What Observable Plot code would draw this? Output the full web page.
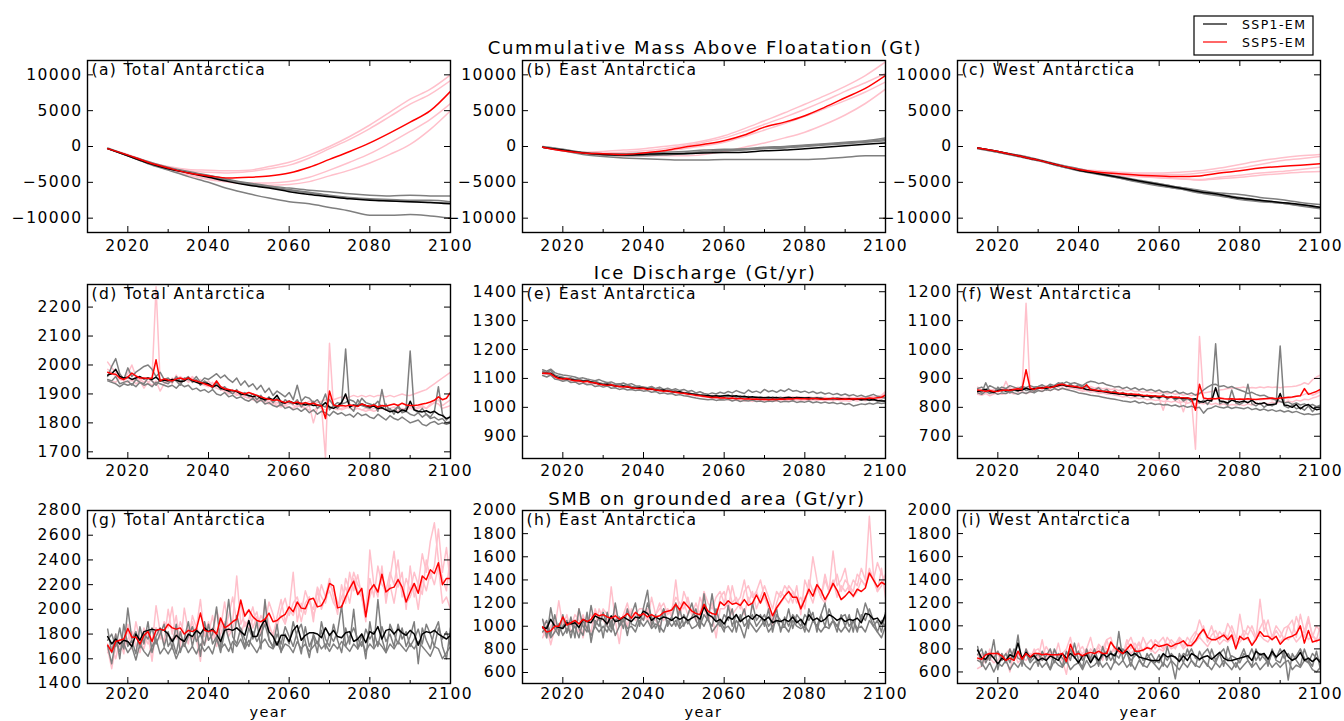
<!DOCTYPE html>
<html>
<head>
<meta charset="utf-8">
<script src="https://cdn.jsdelivr.net/npm/d3@7"></script>
<script src="https://cdn.jsdelivr.net/npm/@observablehq/plot@0.6"></script>
<style>
  body { margin: 0; background: #fff; }
  #fig { position: relative; width: 1344px; height: 721px; overflow: hidden; font-family: "DejaVu Sans", sans-serif; background: #fff; }
  #fig svg text { letter-spacing: 1.4px; }
  #fig svg text.heading { letter-spacing: 1.7px; }
  #fig svg text.legend-label { letter-spacing: 1.4px; }
</style>
</head>
<body>
<div id="fig"></div>
<script>
// ---------- time axes ----------
const years = d3.range(2015, 2101);        // annual values 2015..2100
const years5 = d3.range(2015, 2101, 5);    // five-year values for cumulative mass
const xLabelTicks = [2020, 2040, 2060, 2080, 2100];
const xMinorTicks = [2030, 2050, 2070, 2090];

// ---------- y ticks ----------
const massTicks = [-10000, -5000, 0, 5000, 10000];
const dischargeTotalTicks = [1700, 1800, 1900, 2000, 2100, 2200];
const dischargeEastTicks = [900, 1000, 1100, 1200, 1300, 1400];
const dischargeWestTicks = [700, 800, 900, 1000, 1100, 1200];
const smbTotalTicks = [1400, 1600, 1800, 2000, 2200, 2400, 2600, 2800];
const smbRegionTicks = [600, 800, 1000, 1200, 1400, 1600, 1800, 2000];

// ---------- cumulative mass above floatation (Gt), five-yearly ----------
const massTotalSSP1 = [
  [-300,-1300,-2400,-3300,-4200,-5000,-5900,-6600,-7200,-7700,-8000,-8500,-9000,-9600,-9600,-9500,-9700,-10000],
  [-300,-1200,-2100,-2900,-3500,-4000,-4600,-5100,-5500,-5800,-6100,-6300,-6600,-6800,-6900,-6800,-6900,-6900],
  [-200,-1200,-2200,-3000,-3600,-4100,-4700,-5200,-5600,-6000,-6400,-6800,-7100,-7300,-7400,-7500,-7500,-7700],
  [-300,-1300,-2300,-3100,-3600,-4200,-4800,-5300,-5700,-6100,-6500,-6900,-7200,-7400,-7600,-7700,-7800,-7900]
];
const massTotalSSP1Mean = [-300,-1300,-2300,-3100,-3700,-4300,-4900,-5400,-5800,-6300,-6700,-7000,-7300,-7500,-7600,-7700,-7800,-8000];
const massTotalSSP5 = [
  [-300,-1200,-2200,-2800,-3200,-3300,-3400,-3300,-2800,-2200,-1200,0,1400,3000,4800,6600,8000,10000],
  [-300,-1100,-2100,-2900,-3400,-3600,-3700,-3500,-3100,-2600,-1600,-300,1000,2500,4200,5900,7300,9200],
  [-300,-1300,-2300,-3100,-3900,-4500,-4900,-5100,-5100,-4900,-4300,-3300,-2200,-1000,500,2100,3800,6000],
  [-300,-1300,-2300,-3200,-4000,-4600,-5000,-5300,-5400,-5300,-4900,-4100,-3300,-2300,-1100,300,2400,5000]
];
const massTotalSSP5Mean = [-300,-1200,-2200,-3000,-3700,-4100,-4400,-4300,-4100,-3700,-2900,-1800,-700,500,1900,3400,5000,7700];

const massEastSSP1 = [
  [-100,-600,-1100,-1400,-1600,-1700,-1800,-1900,-1900,-1800,-1800,-1800,-1800,-1800,-1700,-1500,-1300,-1300],
  [-100,-400,-800,-1000,-1000,-900,-800,-700,-500,-400,-300,-100,0,200,400,600,800,1200],
  [-100,-500,-900,-1100,-1100,-1100,-1000,-900,-700,-500,-400,-200,-100,100,300,500,700,1000],
  [0,-400,-900,-1200,-1300,-1300,-1200,-1000,-800,-600,-500,-300,-200,0,200,400,600,800]
];
const massEastSSP1Mean = [-100,-500,-900,-1100,-1200,-1100,-1000,-1000,-900,-850,-800,-600,-500,-300,-100,100,300,500];
const massEastSSP5 = [
  [-100,-500,-800,-700,-500,-300,0,300,800,1500,2500,3600,4700,5900,7100,8400,9900,11800],
  [-100,-500,-900,-900,-800,-600,-300,100,600,1200,2100,3100,4100,5200,6400,7700,8900,10200],
  [-100,-600,-1000,-1100,-1100,-1000,-700,-300,100,600,1400,2300,3200,4200,5300,6400,7600,9000],
  [-100,-600,-1000,-1200,-1300,-1300,-1300,-1300,-1100,-700,-100,500,1200,2000,3100,4400,6000,8000]
];
const massEastSSP5Mean = [-100,-600,-900,-1000,-1100,-900,-600,-100,300,800,1600,2700,3400,4300,5500,6800,8100,9900];

const massWestSSP1 = [
  [-200,-700,-1200,-1800,-2500,-3100,-3700,-4200,-4700,-5200,-5700,-6100,-6500,-6700,-7100,-7400,-7800,-8100],
  [-200,-800,-1400,-2000,-2700,-3400,-3900,-4400,-4900,-5400,-5900,-6300,-6800,-7300,-7600,-7900,-8200,-8500],
  [-300,-800,-1300,-1900,-2700,-3300,-3800,-4400,-5000,-5500,-5900,-6500,-6900,-7400,-7700,-7900,-8300,-8700],
  [-200,-700,-1300,-1900,-2600,-3300,-3800,-4300,-4800,-5200,-5700,-6200,-6700,-7100,-7500,-7800,-8100,-8600]
];
const massWestSSP1Mean = [-200,-700,-1300,-1900,-2600,-3300,-3800,-4300,-4800,-5300,-5800,-6300,-6700,-7200,-7500,-7800,-8100,-8500];
const massWestSSP5 = [
  [-200,-700,-1200,-1800,-2500,-3100,-3400,-3600,-3700,-3700,-3600,-3400,-3000,-2500,-2000,-1600,-1300,-1100],
  [-200,-700,-1300,-1900,-2600,-3200,-3600,-3800,-3900,-3900,-3900,-3700,-3400,-3000,-2500,-2000,-1700,-1400],
  [-200,-700,-1300,-1900,-2700,-3300,-3800,-4000,-4200,-4400,-4500,-4600,-4300,-4000,-3700,-3500,-3200,-2900],
  [-300,-800,-1400,-2000,-2700,-3300,-3700,-4000,-4200,-4300,-4500,-4700,-4500,-4300,-4000,-3800,-3600,-3500]
];
const massWestSSP5Mean = [-200,-700,-1300,-1900,-2600,-3200,-3600,-3800,-4000,-4100,-4200,-4100,-3700,-3400,-3000,-2800,-2600,-2400];

// ---------- ice discharge (Gt/yr), annual 2015..2100 ----------
const dischargeTotalSSP1 = [
  [1960,1995,2022,1970,1950,
   1990,1960,1975,1985,1995,2000,1985,1960,1975,1950,
   1955,1940,1960,1945,1950,1960,1940,1950,1930,1945,
   1935,1920,1940,1915,1925,1910,1900,1915,1895,1905,
   1890,1900,1880,1895,1875,1890,1870,1885,1860,1880,
   1870,1865,1880,1855,1870,1860,1875,1850,1865,1900,
   1845,1860,1850,1870,2055,1855,1840,1880,1860,1855,
   1850,1865,1840,1915,1845,1850,1830,1860,1840,1850,
   2048,1845,1835,1850,1830,1820,1840,1925,1830,1810,
   1825],
  [1950,1945,1960,1935,1940,
   1945,1930,1950,1940,1935,1955,1945,1930,1950,1940,
   1935,1950,1945,1930,1955,1950,1945,1960,1940,1955,
   1950,1960,1970,1955,1965,1950,1940,1955,1930,1945,
   1925,1935,1915,1930,1905,1920,1895,1910,1900,1890,
   1905,1880,1930,1875,1890,1885,1870,1880,1860,1855,
   1880,1860,1870,1865,1870,1880,1875,1860,1885,1870,
   1865,1860,1875,1850,1865,1840,1845,1855,1835,1840,
   1830,1825,1835,1820,1830,1815,1820,1810,1815,1800,
   1805],
  [1945,1940,1935,1925,1935,
   1930,1935,1925,1940,1930,1935,1925,1940,1935,1930,
   1925,1930,1920,1935,1925,1930,1915,1920,1910,1915,
   1905,1915,1900,1895,1905,1890,1895,1885,1890,1880,
   1875,1885,1870,1880,1865,1870,1860,1855,1865,1850,
   1855,1845,1850,1840,1850,1835,1845,1830,1840,1835,
   1825,1840,1830,1835,1825,1830,1820,1835,1825,1830,
   1820,1815,1830,1820,1810,1825,1815,1810,1820,1810,
   1800,1805,1810,1795,1790,1800,1805,1795,1800,1795,
   1800]
];
const dischargeTotalSSP1Mean = [
  1965,1970,1985,1960,1955,
  1958,1950,1955,1960,1952,1955,1950,1958,1945,1948,
  1945,1950,1948,1942,1945,1955,1945,1940,1935,1938,
  1935,1925,1930,1920,1915,1910,1912,1908,1900,1898,
  1895,1890,1895,1885,1880,1885,1880,1895,1872,1868,
  1875,1870,1865,1868,1862,1865,1860,1862,1858,1870,
  1855,1850,1858,1870,1900,1855,1862,1858,1865,1860,
  1855,1858,1850,1852,1845,1838,1842,1835,1845,1840,
  1875,1845,1840,1838,1842,1835,1840,1830,1825,1815,
  1820];
const dischargeTotalSSP5 = [
  [2010,1990,1975,1965,1950,
   1970,2000,1960,1945,1955,1940,1950,2270,1945,1940,
   1950,1935,1965,1945,1955,1940,1950,1945,1935,1930,
   1925,1940,1920,1915,1910,1905,1915,1900,1895,1890,
   1885,1890,1880,1875,1880,1870,1865,1870,1860,1865,
   1875,1860,1855,1865,1850,1860,1800,1850,1860,1680,
   2075,1850,1855,1845,1850,1860,1855,1850,1845,1850,
   1845,1850,1855,1850,1845,1850,1855,1850,1845,1850,
   1855,1850,1855,1860,1850,1865,1870,1880,1860,1870,
   1880],
  [1985,1975,1960,1950,1945,
   1955,1945,1960,1950,1940,1955,1945,1935,1950,1945,
   1940,1955,1945,1960,1950,1945,1955,1940,1950,1935,
   1945,1930,1935,1925,1920,1915,1910,1905,1900,1895,
   1895,1890,1885,1885,1880,1875,1875,1870,1870,1865,
   1865,1870,1865,1870,1865,1875,1870,1870,1875,1880,
   1885,1880,1885,1890,1885,1890,1895,1890,1895,1890,
   1895,1890,1895,1895,1890,1895,1890,1895,1900,1895,
   1895,1900,1905,1910,1915,1925,1935,1945,1955,1965,
   1975],
  [1950,1945,1940,1955,1945,
   1940,1950,1935,1945,1920,1940,1930,1945,1910,1935,
   1940,1945,1950,1940,1945,1950,1960,1945,1940,1935,
   1930,1925,1920,1915,1910,1900,1905,1895,1900,1890,
   1885,1880,1875,1880,1870,1865,1870,1860,1855,1860,
   1855,1850,1860,1855,1850,1845,1840,1855,1850,1845,
   1855,1850,1845,1850,1855,1850,1845,1850,1845,1840,
   1845,1840,1845,1850,1845,1840,1845,1840,1850,1845,
   1850,1845,1850,1855,1850,1860,1870,1865,1850,1855,
   1860]
];
const dischargeTotalSSP5Mean = [
  1975,1970,1968,1955,1950,
  1958,1972,1962,1955,1955,1953,1955,2018,1945,1952,
  1948,1945,1952,1955,1950,1955,1948,1945,1940,1935,
  1930,1925,1945,1925,1918,1915,1912,1910,1905,1900,
  1905,1900,1895,1890,1885,1882,1878,1880,1875,1870,
  1875,1868,1872,1866,1870,1865,1868,1862,1860,1815,
  1910,1862,1858,1860,1858,1862,1860,1857,1865,1860,
  1858,1862,1855,1860,1858,1862,1865,1860,1868,1862,
  1860,1860,1862,1865,1868,1872,1878,1890,1880,1885,
  1905];

const dischargeEastSSP1 = [
  [1130,1125,1132,1120,1115,
   1112,1110,1108,1105,1100,1102,1098,1095,1092,1096,
   1090,1085,1088,1082,1080,1084,1078,1082,1075,1072,
   1070,1068,1072,1065,1070,1062,1066,1060,1064,1058,
   1062,1055,1058,1050,1054,1048,1045,1050,1046,1052,
   1048,1055,1050,1058,1052,1048,1060,1052,1056,1050,
   1062,1054,1058,1052,1060,1055,1064,1056,1058,1052,
   1056,1050,1055,1048,1052,1046,1050,1044,1048,1042,
   1046,1040,1044,1038,1042,1036,1040,1045,1038,1035,
   1032],
  [1110,1105,1112,1098,1095,
   1090,1094,1086,1088,1080,1084,1078,1080,1072,1075,
   1070,1074,1066,1068,1062,1065,1060,1062,1058,1060,
   1056,1058,1052,1055,1048,1050,1046,1048,1042,1044,
   1040,1038,1035,1032,1030,1028,1026,1028,1024,1026,
   1025,1028,1022,1026,1020,1024,1022,1025,1020,1022,
   1018,1022,1020,1024,1018,1021,1019,1023,1017,1020,
   1018,1022,1016,1019,1015,1018,1014,1017,1012,1015,
   1010,1013,1005,1008,1012,1010,1014,1011,1016,1013,
   1015],
  [1125,1120,1128,1112,1108,
   1104,1100,1102,1096,1098,1092,1095,1088,1090,1085,
   1082,1086,1080,1078,1082,1075,1078,1072,1070,1074,
   1068,1066,1070,1062,1064,1058,1060,1055,1058,1052,
   1050,1052,1046,1048,1042,1045,1038,1040,1036,1038,
   1040,1036,1042,1035,1040,1034,1038,1032,1036,1030,
   1034,1030,1036,1032,1035,1030,1033,1029,1034,1031,
   1032,1028,1033,1030,1034,1029,1031,1027,1033,1030,
   1028,1031,1026,1030,1025,1028,1024,1027,1022,1025,
   1020]
];
const dischargeEastSSP1Mean = [
  1118,1117,1118,1108,1102,
  1100,1098,1096,1094,1092,1090,1091,1088,1084,1082,
  1078,1080,1076,1074,1072,1074,1070,1068,1066,1068,
  1066,1064,1063,1060,1058,1060,1056,1055,1052,1054,
  1050,1048,1046,1044,1042,1040,1041,1038,1040,1038,
  1040,1042,1038,1040,1036,1038,1035,1037,1034,1035,
  1033,1035,1032,1034,1031,1033,1035,1032,1034,1033,
  1032,1033,1030,1032,1030,1028,1030,1031,1029,1030,
  1028,1030,1027,1029,1026,1028,1025,1027,1024,1022,
  1022];
const dischargeEastSSP5 = [
  [1122,1118,1120,1110,1104,
   1102,1098,1100,1094,1096,1090,1092,1088,1086,1084,
   1080,1082,1076,1078,1072,1074,1070,1072,1066,1068,
   1064,1066,1060,1062,1058,1060,1054,1056,1050,1052,
   1048,1050,1044,1046,1040,1042,1036,1038,1032,1034,
   1030,1034,1028,1032,1026,1030,1025,1028,1024,1026,
   1025,1028,1023,1026,1024,1027,1025,1028,1026,1029,
   1027,1030,1026,1029,1027,1030,1028,1031,1029,1032,
   1030,1033,1031,1034,1032,1035,1034,1037,1038,1042,
   1055],
  [1112,1115,1110,1102,1098,
   1094,1100,1090,1092,1086,1090,1082,1085,1080,1078,
   1076,1072,1076,1070,1072,1066,1070,1064,1066,1062,
   1064,1058,1062,1056,1058,1052,1055,1050,1052,1046,
   1048,1042,1044,1038,1040,1034,1036,1030,1032,1028,
   1030,1026,1028,1024,1027,1022,1025,1020,1024,1021,
   1023,1020,1024,1021,1025,1022,1026,1023,1027,1024,
   1026,1023,1027,1024,1026,1022,1025,1023,1026,1022,
   1024,1021,1025,1022,1026,1023,1027,1024,1028,1030,
   1035],
  [1118,1122,1114,1108,1100,
   1098,1102,1094,1090,1096,1088,1092,1084,1088,1080,
   1082,1076,1080,1074,1076,1070,1074,1068,1070,1064,
   1068,1062,1066,1060,1062,1056,1060,1054,1056,1050,
   1052,1046,1048,1042,1044,1040,1038,1042,1036,1038,
   1034,1038,1032,1036,1030,1034,1028,1032,1030,1033,
   1030,1034,1031,1035,1032,1036,1033,1037,1034,1036,
   1034,1037,1033,1036,1032,1035,1031,1034,1032,1035,
   1033,1036,1032,1035,1033,1036,1034,1037,1036,1040,
   1048]
];
const dischargeEastSSP5Mean = [
  1118,1118,1116,1106,1100,
  1098,1100,1095,1092,1093,1088,1090,1086,1085,1080,
  1078,1076,1078,1074,1072,1070,1072,1068,1066,1065,
  1066,1062,1064,1060,1058,1056,1057,1054,1052,1050,
  1049,1046,1044,1042,1040,1038,1036,1034,1035,1032,
  1033,1031,1032,1030,1031,1029,1030,1028,1029,1027,
  1028,1026,1028,1027,1029,1028,1030,1029,1031,1030,
  1030,1029,1031,1030,1028,1030,1029,1031,1030,1028,
  1029,1028,1030,1029,1031,1030,1032,1031,1033,1035,
  1042];

const dischargeWestSSP1 = [
  [860,850,885,855,850,
   870,855,865,850,860,855,870,858,862,855,
   865,870,860,875,868,880,885,872,880,870,
   878,870,872,865,860,868,855,862,850,858,
   845,852,840,848,838,846,835,842,832,840,
   830,845,828,838,825,835,822,830,820,828,
   815,825,810,830,1020,812,820,808,860,815,
   810,818,880,812,805,815,800,810,805,812,
   1012,805,798,808,795,800,790,805,785,800,
   805],
  [865,870,860,875,868,
   862,870,865,875,870,865,872,868,875,870,
   872,878,870,880,875,885,880,888,882,885,
   880,875,885,890,888,882,885,878,875,870,
   872,865,870,862,868,860,865,858,862,855,
   860,852,855,850,858,848,852,845,850,842,
   848,860,870,878,880,872,875,868,872,865,
   860,855,848,852,845,840,842,835,830,825,
   820,815,818,810,815,808,812,805,810,802,
   808],
  [850,845,855,848,852,
   845,850,848,855,850,845,852,848,855,850,
   858,855,862,858,865,860,866,862,858,855,
   850,848,845,842,840,838,835,832,830,828,
   825,822,820,818,822,815,818,812,815,810,
   812,808,810,805,808,802,806,800,804,798,
   800,780,795,798,805,800,798,802,796,800,
   798,795,800,792,796,790,794,788,792,786,
   790,784,788,782,786,780,775,778,774,776,
   778]
];
const dischargeWestSSP1Mean = [
  855,858,862,855,852,
  858,860,856,860,862,858,860,866,862,865,
  866,868,866,870,872,875,878,874,872,870,
  868,866,862,860,858,856,855,852,850,848,
  846,845,843,842,840,842,838,840,836,838,
  835,838,834,836,832,834,830,832,828,830,
  820,818,825,822,868,822,820,815,825,820,
  818,822,816,825,814,812,816,808,810,812,
  848,808,806,800,810,795,805,810,798,792,
  795];
const dischargeWestSSP5 = [
  [870,860,855,862,858,
   865,855,890,860,858,862,860,1160,858,865,
   870,862,875,868,872,870,875,872,868,865,
   862,860,870,858,855,852,855,850,848,850,
   845,848,842,845,840,842,838,840,835,838,
   830,790,835,832,830,825,785,830,828,655,
   1045,830,828,825,830,828,832,826,830,828,
   825,828,826,830,828,825,828,830,826,828,
   830,832,830,835,838,840,845,850,842,848,
   855],
  [850,855,852,858,862,
   858,865,860,868,862,870,865,868,872,866,
   870,874,868,872,876,870,874,878,872,876,
   870,874,868,872,866,870,864,866,862,864,
   858,862,856,860,854,856,852,855,850,852,
   848,852,846,850,845,848,842,846,840,845,
   848,850,852,855,858,860,862,865,866,868,
   868,870,866,869,867,870,868,871,869,870,
   868,870,871,872,874,878,885,880,895,905,
   912],
  [845,842,848,840,846,
   850,845,848,852,846,850,855,848,852,856,
   860,855,862,858,865,860,866,862,868,864,
   860,856,858,852,855,848,850,845,846,842,
   840,836,838,832,835,830,832,826,828,824,
   825,820,822,818,822,816,820,814,818,812,
   815,812,816,810,814,808,812,806,810,808,
   810,806,812,808,815,810,816,812,818,814,
   820,816,822,818,825,822,828,826,832,836,
   842]
];
const dischargeWestSSP5Mean = [
  860,858,856,858,855,
  856,858,860,858,862,864,862,930,866,862,
  868,866,870,868,872,878,880,876,874,872,
  870,866,878,862,860,858,856,855,853,852,
  850,849,847,846,845,844,842,841,840,839,
  838,838,836,835,836,834,833,832,830,790,
  880,832,830,831,830,832,830,829,830,828,
  829,828,830,828,827,829,830,831,832,830,
  832,833,835,836,838,840,865,845,850,855,
  862];

// ---------- SMB on grounded area (Gt/yr), annual 2015..2100 ----------
const smbTotalSSP1 = [
  [1840,1650,1800,1600,1880,
   1700,1750,1640,1860,1720,1900,1650,1780,1850,1700,
   1820,1680,1880,1650,1760,1900,1700,1850,1620,1900,
   1750,1800,2020,1700,1880,1760,1650,1950,1820,1700,
   1850,1760,1900,1680,2080,1750,1700,1880,1650,1800,
   1720,1900,1770,1640,1860,1700,1780,1650,1900,1760,
   1700,1880,1750,1650,1850,1720,2000,1680,1800,1600,
   1900,1700,2080,1760,1650,1880,1800,1720,1850,1700,
   1780,1900,1560,1850,1750,1680,1820,1900,1700,1600,
   1850],
  [1750,1800,1700,1850,1680,
   2010,1760,1820,1690,1800,1760,1850,1720,1800,1880,
   1700,1760,1640,1820,1700,1780,1860,1740,1800,1710,
   1880,1720,1780,1650,1820,2080,1780,1720,1850,1760,
   1700,1820,1740,1800,1880,1760,1690,1800,1720,1860,
   1780,1700,1820,1880,1740,1610,1800,1720,1830,1680,
   1800,1740,1820,2030,1700,1780,1850,1760,1700,1840,
   1760,1820,1700,1860,1740,1800,1700,1880,1760,1820,
   1700,1760,1840,1720,1880,1800,1700,1850,1760,1820,
   1700],
  [1700,1560,1750,1660,1720,
   1650,1700,1590,1720,1660,1620,1700,1760,1640,1690,
   1640,1700,1600,1680,1720,1650,1700,1640,1720,1660,
   1700,1640,1760,1680,1720,1660,1740,1700,1760,1680,
   1750,1700,1650,1720,1760,1700,1680,1740,1660,1720,
   1700,1650,1740,1680,1720,1660,1700,1740,1680,1720,
   1660,1720,1680,1740,1700,1660,1720,1680,1740,1660,
   1720,1680,1740,1700,1650,1720,1680,1740,1700,1660,
   1720,1680,1740,1700,1660,1620,1700,1680,1600,1650,
   1700]
];
const smbTotalSSP1Mean = [
  1780,1720,1760,1720,1750,
  1740,1700,1800,1750,1820,1830,1840,1830,1840,1830,
  1800,1740,1790,1760,1740,1800,1780,1830,1800,1850,
  1820,1840,1800,1740,1830,1840,1830,1850,1820,1790,
  1910,1780,1780,1860,1920,1820,1780,1710,1790,1790,
  1740,1830,1870,1750,1790,1810,1810,1800,1770,1850,
  1790,1830,1780,1770,1810,1820,1740,1760,1800,1730,
  1820,1800,1860,1760,1830,1840,1800,1840,1810,1790,
  1830,1800,1710,1800,1820,1810,1830,1800,1780,1760,
  1790];
const smbTotalSSP5 = [
  [1680,1520,1700,1760,1640,
   1880,1720,1800,1680,1850,1760,1700,2030,1820,1740,
   2000,1800,1950,1700,2010,1820,1900,1760,1580,1900,
   1800,1950,1760,1850,2060,1820,1900,2270,1880,1960,
   2000,1850,1940,1820,2050,1880,1780,1940,2080,1900,
   2000,2300,1900,2050,1960,2100,1900,2160,2000,2100,
   2250,2100,1960,2200,2050,2300,2150,2280,2100,1900,
   2480,2200,2100,2350,2050,2250,2470,2180,2300,2000,
   2350,2100,2200,2450,2300,2550,2700,2400,2250,2150,
   2450],
  [1720,1650,1800,1700,1760,
   1820,1680,1900,1750,1680,1800,1580,1850,1760,1900,
   1850,2020,1760,1900,1800,1720,1950,1850,2080,1780,
   1900,1760,2000,1880,1820,1950,2100,1900,2050,1860,
   1920,2020,1850,1950,1880,2060,1960,1850,2000,2090,
   1950,2050,2100,1980,2150,2050,2000,2180,2100,2050,
   2200,2150,2060,2000,2250,2150,2300,2200,2150,2000,
   2250,2100,2350,2200,2150,2300,2200,2400,2100,2250,
   2150,2300,2200,2120,2400,2250,2350,2650,2300,2500,
   2200],
  [1650,1700,1600,1750,1680,
   1760,1820,1700,1650,1800,1720,1760,1850,1800,1720,
   1800,1750,1850,1780,1700,1820,1760,1850,1800,1720,
   1780,1850,1700,1800,1900,1780,1850,1950,1800,1900,
   1850,1920,1980,1800,1900,1850,1800,1900,1950,1880,
   2000,1950,2050,1900,2050,2100,1950,2050,2200,2100,
   2150,2050,2000,2100,2180,2050,2250,2150,2100,1950,
   2100,2200,2150,2300,2100,2200,2050,2250,2150,2050,
   2100,2200,2000,2250,2150,2300,2200,2350,2050,2100,
   2000]
];
const smbTotalSSP5Mean = [
  1710,1655,1740,1750,1760,
  1845,1775,1775,1720,1790,1820,1740,1830,1840,1830,
  1880,1850,1840,1850,1800,1830,1820,1840,1970,1830,
  1820,1830,1800,1930,1850,1870,1900,1920,2075,1945,
  1995,1940,1910,1900,1920,1970,1900,1910,1940,1960,
  2020,1980,2060,2010,2005,2080,2090,2020,2030,2090,
  2210,2190,2012,2020,2100,2170,2228,2120,2170,1940,
  2155,2200,2140,2285,2140,2170,2180,2240,2180,2060,
  2140,2210,2130,2270,2240,2320,2290,2377,2200,2250,
  2250];

const smbEastSSP1 = [
  [1060,900,1160,980,920,
   1100,940,1080,900,1150,1000,950,1180,1000,1080,
   900,1120,980,1200,1000,1080,920,1100,1200,1000,
   1160,1310,1000,1100,950,1150,1020,1080,1000,1150,
   1000,1100,1200,1050,980,1280,1050,1000,1150,1020,
   950,1180,1000,1100,1050,1150,980,1200,1050,1100,
   1000,1150,950,1100,1050,1000,1150,980,1100,1050,
   950,1150,1050,1000,1100,1200,1000,1050,950,1100,
   1000,1100,950,1150,1050,1200,1100,1000,1050,950,
   1120],
  [980,1050,920,1100,950,
   1000,1050,900,1050,980,920,1120,860,1050,1000,
   1120,1000,950,1050,1080,980,1150,1020,1000,1100,
   1050,1200,1080,980,1050,1150,1000,1080,1200,1000,
   1100,1020,1080,1150,1000,1100,1050,1280,1050,1000,
   1100,1050,1150,950,1100,1000,1050,1100,1000,1050,
   1100,1000,1050,1150,950,1080,1000,1100,1050,1000,
   1100,1050,1120,950,1100,1000,1150,1050,1000,1080,
   1100,1000,1050,950,1100,1050,1150,1050,950,1050,
   1000],
  [950,1000,900,950,1020,
   920,980,950,1000,900,1050,980,920,1000,950,
   1000,950,1050,920,1000,1050,980,1000,950,1050,
   1000,1050,980,1020,1000,950,1050,1000,1050,980,
   1020,1050,980,1000,1050,1000,1080,950,1000,1050,
   980,1000,950,1050,1000,900,1050,1000,950,1000,
   1050,950,1000,1050,980,1000,950,1050,1000,980,
   1000,950,1050,1000,950,1000,980,1050,1000,950,
   1000,950,1050,980,1000,950,1050,1000,950,900,
   1000]
];
const smbEastSSP1Mean = [
  990,980,1060,1000,990,
  980,1030,1020,1030,990,1060,1040,1030,1090,1070,
  1060,1020,1090,1040,1050,1080,1060,1040,1080,1070,
  1130,1110,1050,1080,1060,1080,1070,1050,1080,1060,
  1080,1050,1070,1090,1060,1170,1100,1080,1040,1060,
  1020,1080,1060,1100,1040,1070,1090,1060,1100,1080,
  1050,1080,1030,1050,1040,1060,1040,1080,1030,1060,
  1010,1100,1050,1070,1040,1060,1100,1080,1050,1070,
  1040,1060,1050,1070,1030,1110,1100,1060,1070,1020,
  1100];
const smbEastSSP5 = [
  [1050,1000,840,980,1220,
   1000,1100,950,1000,1150,900,1050,1100,1000,1150,
   1050,1000,1340,1050,850,1100,1000,1150,1050,1100,
   1050,1150,1000,1100,1200,1050,1150,1100,1400,1100,
   1300,1200,1100,1050,1250,1150,1100,1200,1050,1250,
   1300,1150,1350,1200,1250,1400,1200,1300,1150,1250,
   1350,1250,1150,1300,1250,1350,1300,1200,1350,1100,
   1400,1300,1600,1400,1250,1450,1300,1650,1350,1400,
   1500,1300,1400,1350,1500,1400,1950,1450,1300,1500,
   1250],
  [900,1000,950,1050,980,
   1050,950,1050,1000,950,1100,1000,950,1150,1050,
   1150,1100,1050,1150,1000,1100,1200,1050,1100,1150,
   1150,1050,1250,1100,1150,1200,1100,1150,1250,1200,
   1150,1250,1100,1200,1100,1300,1200,1150,1250,1300,
   1200,1350,1200,1250,1150,1300,1350,1250,1300,1400,
   1250,1150,1050,1200,1300,1250,1350,1300,1200,1250,
   1150,1400,1300,1350,1250,1400,1300,1350,1450,1300,
   1400,1350,1300,1450,1400,1350,1500,1400,1550,1450,
   1400],
  [950,900,1000,1050,950,
   1000,1050,1000,1100,1050,1000,1080,1050,1100,1050,
   1100,1050,1000,1100,1080,1050,1150,1050,1100,1080,
   1100,1050,1100,1050,1000,1100,1150,1080,1200,1100,
   1200,1100,1150,1050,1100,1150,1050,1100,900,1150,
   1150,1200,1100,1150,1200,1100,1250,1150,1300,1200,
   1250,1200,1000,1150,1200,1250,1200,1300,1250,1150,
   1250,1300,1200,1350,1250,1200,1300,1400,1250,1350,
   1300,1350,1250,1300,1400,1350,1450,1400,1300,1350,
   1450]
];
const smbEastSSP5Mean = [
  994,950,960,1000,1000,
  1080,1010,1030,1050,1020,1060,1040,1060,1110,1090,
  1100,1080,1070,1090,1060,1080,1110,1070,1120,1090,
  1110,1080,1100,1080,1090,1120,1130,1140,1190,1140,
  1210,1170,1130,1110,1100,1190,1130,1110,1100,1210,
  1180,1220,1190,1200,1180,1230,1180,1200,1270,1200,
  1290,1190,1090,1160,1210,1260,1300,1250,1250,1150,
  1230,1320,1260,1360,1310,1230,1290,1370,1310,1230,
  1260,1300,1260,1320,1300,1330,1460,1400,1340,1380,
  1360];

const smbWestSSP1 = [
  [820,650,780,700,880,
   620,760,680,800,700,920,650,800,700,760,
   650,780,700,620,800,720,650,780,700,850,
   700,640,800,700,750,650,820,700,780,680,
   950,700,780,650,800,720,650,760,700,680,
   750,650,820,700,540,760,680,800,700,650,
   780,700,650,800,700,760,650,820,700,640,
   720,800,700,650,800,700,760,650,800,700,
   680,780,530,760,700,650,800,700,650,780,
   620],
  [750,800,680,750,720,
   780,700,760,680,800,720,700,760,680,720,
   760,700,740,800,680,760,720,680,800,720,
   780,700,760,720,800,680,740,780,700,760,
   720,800,760,700,740,780,700,720,760,700,
   680,750,700,760,720,700,760,740,800,720,
   700,760,800,720,680,760,800,700,740,720,
   680,760,720,800,700,760,720,680,760,720,
   800,720,760,700,740,800,720,680,760,720,
   700],
  [700,680,620,680,600,
   680,650,700,620,680,640,700,650,620,680,
   700,640,680,620,700,660,640,700,620,660,
   680,620,700,640,660,700,640,680,620,700,
   660,700,640,680,620,700,660,640,700,660,
   620,680,640,700,660,620,680,640,700,660,
   640,700,660,620,680,640,700,660,620,680,
   620,660,700,640,680,620,660,700,640,680,
   640,680,700,620,660,640,700,680,620,600,
   640]
];
const smbWestSSP1Mean = [
  790,720,710,760,720,
  670,720,700,750,730,850,720,770,730,740,
  700,720,700,740,720,700,760,720,760,730,
  680,740,750,680,740,700,760,730,760,740,
  810,760,780,740,760,730,720,710,700,700,
  700,760,730,740,730,690,740,700,760,740,
  710,730,740,710,740,770,720,700,700,710,
  720,730,740,700,780,750,760,710,780,730,
  760,790,730,700,720,770,700,720,690,720,
  680];
const smbWestSSP5 = [
  [630,650,720,700,760,
   750,700,720,600,780,680,720,760,700,800,
   720,880,700,780,720,850,700,580,800,750,
   850,720,800,900,750,820,700,880,760,820,
   800,750,880,800,850,780,900,820,780,880,
   840,800,900,850,800,880,820,900,850,920,
   1050,950,900,1000,880,950,900,1020,950,850,
   1100,900,1000,950,880,1230,950,1050,900,1000,
   950,880,1000,1050,900,1100,950,1080,900,1000,
   950],
  [700,760,680,800,720,
   780,720,760,800,720,760,680,800,740,780,
   800,740,820,760,780,720,760,800,900,720,
   780,820,740,800,760,840,800,880,900,780,
   820,760,840,900,800,860,780,840,880,800,
   860,900,820,880,840,900,860,820,900,950,
   900,1000,860,920,960,880,940,900,1000,900,
   880,960,920,1000,900,980,1050,920,880,960,
   900,980,1000,920,1080,980,900,1050,920,880,
   1000],
  [750,700,760,720,680,
   700,760,680,740,700,780,720,700,760,720,
   740,700,760,720,780,740,700,760,740,780,
   720,760,800,740,780,760,820,800,760,800,
   760,780,820,760,800,840,780,820,800,760,
   800,780,840,800,820,860,800,840,820,860,
   900,860,820,880,900,840,880,860,900,820,
   860,900,880,840,900,920,880,860,920,900,
   860,900,880,920,860,900,960,880,920,860,
   900]
];
const smbWestSSP5Mean = [
  720,710,750,760,760,
  760,740,700,720,700,780,710,760,730,760,
  760,750,755,750,750,750,760,690,840,750,
  760,740,760,770,760,780,760,760,860,810,
  780,760,800,840,780,780,790,810,800,840,
  820,830,840,820,840,850,870,830,830,870,
  930,970,900,880,880,900,920,880,920,800,
  910,880,900,830,880,950,910,910,880,910,
  840,880,900,910,930,1000,850,960,860,870,
  880];

// ---------- panel layout ----------
const colLeft = [87, 522, 957];
const rowTop = [60, 284, 510];
const rowHeight = [172, 174, 173];
const rowTickPadding = [7, 6, 4];
const panelWidth = 363;

const panels = [
  {col: 0, row: 0, label: "(a) Total Antarctica", yDomain: [-12000, 12000], yTicks: massTicks, xs: years5,
   ssp1: massTotalSSP1, ssp1Mean: massTotalSSP1Mean, ssp5: massTotalSSP5, ssp5Mean: massTotalSSP5Mean},
  {col: 1, row: 0, label: "(b) East Antarctica", yDomain: [-12000, 12000], yTicks: massTicks, xs: years5,
   ssp1: massEastSSP1, ssp1Mean: massEastSSP1Mean, ssp5: massEastSSP5, ssp5Mean: massEastSSP5Mean},
  {col: 2, row: 0, label: "(c) West Antarctica", yDomain: [-12000, 12000], yTicks: massTicks, xs: years5,
   ssp1: massWestSSP1, ssp1Mean: massWestSSP1Mean, ssp5: massWestSSP5, ssp5Mean: massWestSSP5Mean},
  {col: 0, row: 1, label: "(d) Total Antarctica", yDomain: [1677, 2278], yTicks: dischargeTotalTicks, xs: years,
   ssp1: dischargeTotalSSP1, ssp1Mean: dischargeTotalSSP1Mean, ssp5: dischargeTotalSSP5, ssp5Mean: dischargeTotalSSP5Mean},
  {col: 1, row: 1, label: "(e) East Antarctica", yDomain: [823, 1425], yTicks: dischargeEastTicks, xs: years,
   ssp1: dischargeEastSSP1, ssp1Mean: dischargeEastSSP1Mean, ssp5: dischargeEastSSP5, ssp5Mean: dischargeEastSSP5Mean},
  {col: 2, row: 1, label: "(f) West Antarctica", yDomain: [623, 1225], yTicks: dischargeWestTicks, xs: years,
   ssp1: dischargeWestSSP1, ssp1Mean: dischargeWestSSP1Mean, ssp5: dischargeWestSSP5, ssp5Mean: dischargeWestSSP5Mean},
  {col: 0, row: 2, label: "(g) Total Antarctica", yDomain: [1400, 2800], yTicks: smbTotalTicks, xs: years,
   ssp1: smbTotalSSP1, ssp1Mean: smbTotalSSP1Mean, ssp5: smbTotalSSP5, ssp5Mean: smbTotalSSP5Mean},
  {col: 1, row: 2, label: "(h) East Antarctica", yDomain: [505, 2000], yTicks: smbRegionTicks, xs: years,
   ssp1: smbEastSSP1, ssp1Mean: smbEastSSP1Mean, ssp5: smbEastSSP5, ssp5Mean: smbEastSSP5Mean},
  {col: 2, row: 2, label: "(i) West Antarctica", yDomain: [500, 2000], yTicks: smbRegionTicks, xs: years,
   ssp1: smbWestSSP1, ssp1Mean: smbWestSSP1Mean, ssp5: smbWestSSP5, ssp5Mean: smbWestSSP5Mean}
];

// every series must cover its full time axis
for (const p of panels) {
  for (const s of [...p.ssp1, ...p.ssp5, p.ssp1Mean, p.ssp5Mean]) {
    if (s.length !== p.xs.length) throw new Error(`${p.label}: series has ${s.length} values, expected ${p.xs.length}`);
  }
}

const minus = d => d < 0 ? "\u2212" + Math.abs(d) : String(d);
const fig = document.getElementById("fig");

const ML = 85, MR = 12, MT = 10, MB = 32;

function toRows(list, xs, key) {
  return list.flatMap((s, i) => s.map((v, j) => ({year: xs[j], value: v, run: key + i})));
}

for (const p of panels) {
  const W = panelWidth, H = rowHeight[p.row];
  // the five-yearly cumulative curves are drawn smoothly; annual series stay piecewise linear
  const curve = p.xs === years5 ? "monotone-x" : "linear";
  const greyRows = toRows(p.ssp1, p.xs, "ssp1-");
  const pinkRows = toRows(p.ssp5, p.xs, "ssp5-");
  const blackRows = p.ssp1Mean.map((v, j) => ({year: p.xs[j], value: v}));
  const redRows = p.ssp5Mean.map((v, j) => ({year: p.xs[j], value: v}));

  const chart = Plot.plot({
    width: ML + W + MR,
    height: MT + H + MB,
    marginLeft: ML, marginRight: MR, marginTop: MT, marginBottom: MB,
    x: {domain: [2010, 2100]},
    y: {domain: p.yDomain},
    style: {fontFamily: "DejaVu Sans", fontSize: "15.5px", color: "black", background: "transparent", overflow: "visible"},
    marks: [
      Plot.line(pinkRows, {x: "year", y: "value", z: "run", stroke: "#ffc0cb", strokeWidth: 1.5, curve, clip: true}),
      Plot.line(greyRows, {x: "year", y: "value", z: "run", stroke: "#7f7f7f", strokeWidth: 1.5, curve, clip: true}),
      Plot.line(blackRows, {x: "year", y: "value", stroke: "black", strokeWidth: 1.5, curve, clip: true}),
      Plot.line(redRows, {x: "year", y: "value", stroke: "red", strokeWidth: 1.5, curve, clip: true}),
      // inward tick marks on all four sides
      Plot.tickX(xLabelTicks, {x: d => d, insetTop: H - 6, stroke: "black"}),
      Plot.tickX(xLabelTicks, {x: d => d, insetBottom: H - 6, stroke: "black"}),
      Plot.tickX(xMinorTicks, {x: d => d, insetTop: H - 3, stroke: "black"}),
      Plot.tickX(xMinorTicks, {x: d => d, insetBottom: H - 3, stroke: "black"}),
      Plot.tickY(p.yTicks, {y: d => d, insetRight: W - 6, stroke: "black"}),
      Plot.tickY(p.yTicks, {y: d => d, insetLeft: W - 6, stroke: "black"}),
      Plot.frame({stroke: "black", strokeWidth: 1.4}),
      Plot.axisX(xLabelTicks, {tickSize: 0, tickPadding: rowTickPadding[p.row], tickFormat: d => String(d), label: null}),
      Plot.axisY(p.yTicks, {tickSize: 0, tickPadding: 5, tickFormat: minus, label: null}),
      Plot.text([p.label], {frameAnchor: "top-left", dx: 4, dy: 3, lineAnchor: "top", fontSize: 15.5, fill: "black"})
    ]
  });
  chart.style.position = "absolute";
  chart.style.left = (colLeft[p.col] - ML) + "px";
  chart.style.top = (rowTop[p.row] - MT) + "px";
  fig.appendChild(chart);
}

// ---------- row titles, axis names and legend ----------
const overlay = d3.select(fig).append("svg")
  .attr("width", 1344).attr("height", 721)
  .style("position", "absolute").style("left", 0).style("top", 0)
  .style("pointer-events", "none")
  .style("font-family", "DejaVu Sans");

const headings = [
  {text: "Cummulative Mass Above Floatation (Gt)", x: 705, y: 54},
  {text: "Ice Discharge (Gt/yr)", x: 705, y: 279},
  {text: "SMB on grounded area (Gt/yr)", x: 707, y: 505}
];
overlay.selectAll("text.heading").data(headings).join("text")
  .attr("class", "heading")
  .attr("x", d => d.x).attr("y", d => d.y)
  .attr("text-anchor", "middle").attr("font-size", 18).attr("fill", "black")
  .text(d => d.text);

overlay.selectAll("text.xname").data(colLeft).join("text")
  .attr("class", "xname")
  .attr("x", d => d + panelWidth / 2).attr("y", 716.5)
  .attr("text-anchor", "middle").attr("font-size", 14.5).attr("fill", "black")
  .text("year");

const legendItems = [
  {name: "SSP1-EM", color: "black", y: 24},
  {name: "SSP5-EM", color: "red", y: 42}
];
overlay.append("rect")
  .attr("x", 1194).attr("y", 16).attr("width", 119).attr("height", 39)
  .attr("fill", "white").attr("stroke", "black").attr("stroke-width", 1.2);
overlay.selectAll("line.swatch").data(legendItems).join("line")
  .attr("class", "swatch")
  .attr("x1", 1203).attr("x2", 1227).attr("y1", d => d.y).attr("y2", d => d.y)
  .attr("stroke", d => d.color).attr("stroke-width", 1.2);
overlay.selectAll("text.legend-label").data(legendItems).join("text")
  .attr("class", "legend-label")
  .attr("x", 1242).attr("y", d => d.y + 4.5)
  .attr("font-size", 12.5).attr("fill", "black")
  .text(d => d.name);
</script>
</body>
</html>
